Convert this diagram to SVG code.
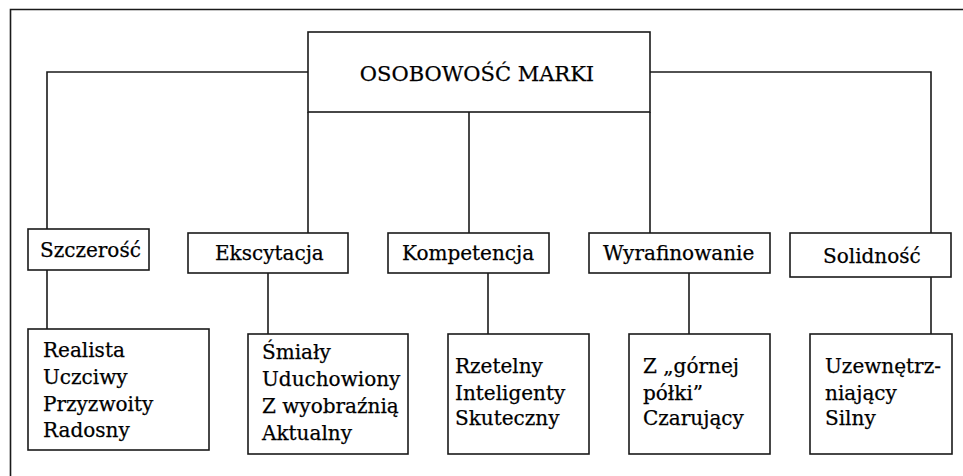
<svg xmlns="http://www.w3.org/2000/svg" width="963" height="476" viewBox="0 0 963 476">
  <style>
    .box { fill: #fff; stroke: #1a1a1a; stroke-width: 1.6; }
    .wire { fill: none; stroke: #1a1a1a; stroke-width: 1.6; }
    text { font-family: "DejaVu Serif", "Liberation Serif", serif; font-size: 20px; fill: #000; stroke: #000; stroke-width: 0.25; }
    .title { font-size: 21px; }
  </style>
  <rect width="963" height="476" fill="#fff"/>
  <!-- outer frame (open to the right and bottom) -->
  <path class="wire" d="M10.5 476 V9.5 H963"/>

  <g id="connectors">
    <path class="wire" d="M308 72 H47 V229"/>
    <path class="wire" d="M650 72 H931 V233"/>
    <path class="wire" d="M308 112 V233"/>
    <path class="wire" d="M469 112 V233"/>
    <path class="wire" d="M650 112 V233"/>
    <path class="wire" d="M47 270 V329"/>
    <path class="wire" d="M268 273 V334"/>
    <path class="wire" d="M488 273 V334"/>
    <path class="wire" d="M689 273 V334"/>
    <path class="wire" d="M931 277 V334"/>
  </g>

  <g id="osobowosc-marki">
    <rect class="box" x="308" y="32" width="342" height="80"/>
    <text class="title" x="477" y="81" text-anchor="middle">OSOBOWOŚĆ MARKI</text>
  </g>

  <g id="szczerosc">
    <rect class="box" x="28" y="229" width="121" height="41"/>
    <text x="40" y="257">Szczerość</text>
  </g>
  <g id="ekscytacja">
    <rect class="box" x="188" y="233" width="160" height="40"/>
    <text x="215" y="260">Ekscytacja</text>
  </g>
  <g id="kompetencja">
    <rect class="box" x="388" y="233" width="161" height="40"/>
    <text x="402" y="260">Kompetencja</text>
  </g>
  <g id="wyrafinowanie">
    <rect class="box" x="589" y="233" width="181" height="40"/>
    <text x="603" y="260">Wyrafinowanie</text>
  </g>
  <g id="solidnosc">
    <rect class="box" x="790" y="233" width="161" height="44"/>
    <text x="823" y="263">Solidność</text>
  </g>

  <g id="cechy-szczerosc">
    <rect class="box" x="28" y="329" width="181" height="121"/>
    <text x="43" y="357">Realista</text>
    <text x="43" y="384">Uczciwy</text>
    <text x="43" y="411">Przyzwoity</text>
    <text x="43" y="437">Radosny</text>
  </g>
  <g id="cechy-ekscytacja">
    <rect class="box" x="248" y="334" width="160" height="120"/>
    <text x="262" y="359">Śmiały</text>
    <text x="262" y="386">Uduchowiony</text>
    <text x="262" y="413">Z wyobraźnią</text>
    <text x="262" y="440">Aktualny</text>
  </g>
  <g id="cechy-kompetencja">
    <rect class="box" x="448" y="334" width="141" height="120"/>
    <text x="455" y="373">Rzetelny</text>
    <text x="455" y="400">Inteligenty</text>
    <text x="455" y="425">Skuteczny</text>
  </g>
  <g id="cechy-wyrafinowanie">
    <rect class="box" x="629" y="334" width="141" height="120"/>
    <text x="643" y="373">Z „górnej</text>
    <text x="643" y="400">półki”</text>
    <text x="643" y="425">Czarujący</text>
  </g>
  <g id="cechy-solidnosc">
    <rect class="box" x="810" y="334" width="142" height="120"/>
    <text x="825" y="373">Uzewnętrz-</text>
    <text x="825" y="400">niający</text>
    <text x="825" y="425">Silny</text>
  </g>
</svg>
